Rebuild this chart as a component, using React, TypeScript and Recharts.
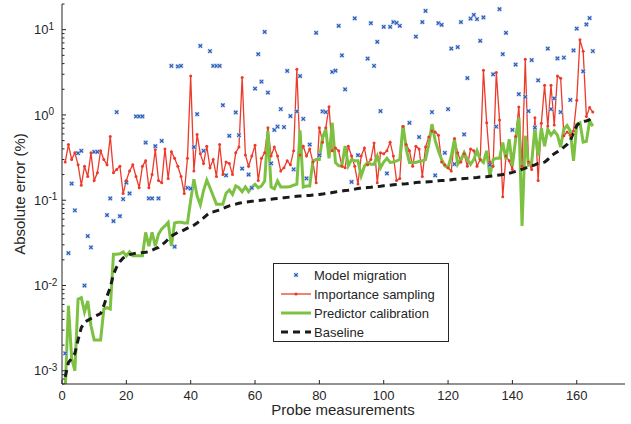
import React from "react"
import { ComposedChart, Line, Scatter, XAxis, YAxis, Legend } from "recharts"

const probes = Array.from({ length: 165 }, (_, i) => i + 1)

const importanceSampling = [
  0.28, 0.45, 0.30, 0.36, 0.26, 0.15, 0.25, 0.19, 0.36, 0.17,
  0.21, 0.38, 0.30, 0.26, 0.56, 0.21, 0.23, 0.25, 0.12, 0.17,
  0.22, 0.26, 0.19, 0.14, 0.25, 0.29, 0.14, 0.20, 0.39, 0.17,
  0.16, 0.40, 0.18, 0.37, 0.31, 0.25, 0.19, 0.12, 0.31, 2.86,
  0.22, 0.59, 0.35, 0.27, 0.43, 0.24, 0.30, 0.19, 0.45, 0.20,
  0.28, 0.27, 0.20, 0.36, 0.42, 2.74, 0.34, 0.25, 0.33, 0.44,
  0.17, 0.31, 0.36, 0.71, 0.33, 0.42, 0.33, 0.22, 0.24, 0.29,
  0.26, 0.38, 3.43, 0.34, 0.43, 0.33, 0.40, 0.28, 0.16, 0.71,
  0.48, 0.71, 1.25, 0.38, 0.41, 0.38, 0.25, 0.24, 0.43, 0.33,
  0.25, 0.155, 0.33, 0.41, 0.26, 0.30, 0.47, 0.16, 0.36, 0.35,
  0.38, 0.48, 0.33, 0.17, 0.18, 0.73, 0.45, 0.38, 0.25, 0.43,
  0.40, 0.19, 0.42, 0.55, 0.65, 0.63, 0.58, 0.28, 0.26, 0.24,
  0.22, 0.53, 0.36, 0.28, 0.35, 0.25, 0.40, 0.38, 0.25, 0.30,
  3.34, 0.81, 0.28, 0.25, 3.14, 0.87, 0.11, 0.33, 0.29, 0.23,
  0.56, 1.24, 0.25, 4.5, 0.28, 0.23, 0.93, 0.17, 0.80, 2.23,
  0.74, 2.23, 0.76, 2.86, 2.7, 0.57, 0.63, 0.58, 0.65, 1.49,
  7.6, 5.6, 0.96, 1.22, 1.08,
]

const predictorCalibration = [
  0.0006, 0.0058, 0.0014, 0.0010, 0.0069, 0.0072, 0.0049, 0.0066, 0.0034, 0.0023,
  0.0023, 0.0023, 0.0053, 0.0055, 0.0053, 0.0233, 0.0233, 0.0235, 0.0248, 0.0223,
  0.0248, 0.0223, 0.0223, 0.0223, 0.0223, 0.042, 0.029, 0.042, 0.029, 0.040,
  0.046, 0.050, 0.055, 0.029, 0.054, 0.055, 0.055, 0.054, 0.054, 0.10,
  0.176, 0.112, 0.088, 0.13, 0.172, 0.14, 0.112, 0.09, 0.09, 0.09,
  0.121, 0.132, 0.117, 0.147, 0.14, 0.126, 0.143, 0.126, 0.143, 0.154,
  0.14, 0.147, 0.168, 0.65, 0.143, 0.136, 0.168, 0.143, 0.143, 0.143,
  0.145, 0.15, 0.154, 0.66, 0.143, 0.147, 0.147, 0.289, 0.30, 0.30,
  0.55, 0.68, 0.31, 0.81, 0.277, 0.253, 0.253, 0.433, 0.253, 0.30,
  0.29, 0.29, 0.193, 0.25, 0.277, 0.264, 0.264, 0.33, 0.24, 0.28,
  0.31, 0.277, 0.28, 0.29, 0.30, 0.757, 0.40, 0.277, 0.277, 0.277,
  0.285, 0.29, 0.30, 0.45, 0.78, 0.50, 0.38, 0.30, 0.253, 0.24,
  0.33, 0.52, 0.264, 0.30, 0.362, 0.30, 0.264, 0.30, 0.38, 0.30,
  0.277, 0.38, 0.193, 0.30, 0.31, 0.31, 0.475, 0.30, 0.52, 0.253,
  0.52, 0.93, 0.05, 0.57, 0.26, 0.28, 0.70, 0.33, 0.70, 0.43,
  0.68, 0.58, 0.65, 0.58, 0.42, 0.68, 0.75, 0.65, 0.29, 0.78,
  0.81, 0.48, 0.49, 0.85, 0.74,
]

const baseline = [
  0.00085, 0.00125, 0.0014, 0.0016, 0.0023, 0.0032, 0.0037, 0.0039, 0.0041, 0.0043,
  0.0045, 0.0047, 0.0058, 0.0075, 0.0095, 0.0135, 0.0165, 0.019, 0.021, 0.022,
  0.023, 0.0235, 0.024, 0.024, 0.0243, 0.0245, 0.025, 0.026, 0.027, 0.028,
  0.030, 0.032, 0.035, 0.038, 0.040, 0.042, 0.043, 0.045, 0.047, 0.049,
  0.051, 0.054, 0.058, 0.062, 0.067, 0.072, 0.073, 0.075, 0.077, 0.080,
  0.083, 0.086, 0.088, 0.090, 0.092, 0.094, 0.095, 0.096, 0.097, 0.098,
  0.099, 0.100, 0.101, 0.102, 0.103, 0.104, 0.105, 0.106, 0.107, 0.108,
  0.109, 0.110, 0.111, 0.112, 0.113, 0.114, 0.114, 0.115, 0.116, 0.117,
  0.118, 0.120, 0.121, 0.123, 0.125, 0.127, 0.128, 0.130, 0.131, 0.133,
  0.135, 0.137, 0.139, 0.140, 0.141, 0.142, 0.144, 0.145, 0.146, 0.148,
  0.149, 0.150, 0.152, 0.153, 0.154, 0.155, 0.156, 0.158, 0.159, 0.161,
  0.162, 0.163, 0.164, 0.165, 0.166, 0.168, 0.169, 0.170, 0.171, 0.172,
  0.174, 0.176, 0.177, 0.179, 0.180, 0.181, 0.183, 0.184, 0.185, 0.187,
  0.188, 0.189, 0.191, 0.193, 0.196, 0.198, 0.200, 0.203, 0.207, 0.212,
  0.218, 0.224, 0.231, 0.238, 0.245, 0.252, 0.26, 0.27, 0.275, 0.28,
  0.30, 0.33, 0.35, 0.37, 0.39, 0.42, 0.45, 0.50, 0.62, 0.75,
  0.82, 0.84, 0.85, 0.88, 0.96,
]

// model migration only has a marker where one is visible
const migrationProbe = [
  1, 2, 3, 4, 5, 6, 7, 8, 9, 10, 11, 14, 15, 16, 17, 18, 19, 20, 21, 23,
  24, 25, 26, 27, 28, 29, 30, 31, 34, 35, 36, 37, 39, 40, 41, 42, 43, 44, 46, 47,
  48, 49, 50, 51, 52, 54, 55, 56, 58, 59, 60, 61, 62, 63, 64, 65, 66, 67, 68, 69,
  70, 71, 72, 73, 74, 75, 76, 77, 79, 80, 81, 82, 84, 85, 86, 87, 88, 90, 91, 92,
  95, 96, 97, 98, 99, 100, 101, 102, 103, 104, 105, 108, 110, 111, 112, 113, 115, 116, 117, 118,
  119, 120, 121, 122, 123, 124, 125, 126, 127, 128, 129, 130, 131, 133, 134, 135, 136, 137, 138, 140,
  141, 142, 144, 145, 146, 147, 148, 151, 152, 153, 154, 155, 156, 158, 159, 160, 162, 163, 164, 165,
]
const migrationError = [
  0.0016, 0.024, 0.157, 0.076, 0.356, 0.38, 0.01, 0.038, 0.028, 0.37, 0.37, 0.067, 0.105, 0.057, 1.08, 0.065, 0.103, 0.161, 0.12, 0.96,
  0.96, 0.96, 0.475, 0.105, 0.105, 0.43, 0.105, 0.496, 3.76, 0.0285, 3.7, 3.76, 0.14, 0.137, 0.42, 1.02, 6.45, 0.38, 5.6, 3.76,
  3.76, 3.76, 1.3, 0.196, 0.57, 1.07, 0.58, 0.235, 0.2, 0.14, 2.04, 5.16, 2.46, 9.4, 1.83, 0.27, 0.667, 0.73, 1.17, 0.72,
  3.28, 0.97, 0.23, 1.1, 2.86, 0.9, 0.18, 0.45, 9.2, 0.337, 1.1, 1.08, 3.19, 3.3, 11.1, 5.0, 2.0, 0.164, 13.6, 0.337,
  4.58, 11.9, 3.76, 7.2, 1.11, 10.8, 0.206, 10.8, 12.3, 12.0, 11.1, 0.81, 8.3, 0.55, 12.3, 16.6, 1.08, 0.196, 11.9, 11.4,
  0.36, 1.17, 6.0, 0.265, 6.25, 12.3, 0.59, 2.71, 13.5, 14.9, 13.3, 7.4, 13.9, 0.26, 3.0, 0.73, 17.4, 5.16, 9.2, 0.667,
  3.9, 1.75, 1.63, 1.11, 4.4, 0.71, 2.55, 6.0, 1.17, 1.56, 4.6, 1.08, 4.7, 1.5, 5.7, 10.3, 3.25, 11.5, 13.7, 5.6,
]

const xTicks = [0, 20, 40, 60, 80, 100, 120, 140, 160]
const yDomain = [0.0007, 20]

const seriesNames = ["Model migration", "Importance sampling", "Predictor calibration", "Baseline"]

const BLUE = "#2b5cb8"
const BLUE_HALO = "#c3d3ef"
const RED = "#ec3a2b"
const GREEN = "#7dc142"
const BLACK = "#1a1a1a"
const AXIS = "#262626"
const FONT = "'Liberation Sans', Arial, Helvetica, sans-serif"

const lineData = probes.map((p, i) => ({
  probe: p,
  importance: importanceSampling[i],
  predictor: predictorCalibration[i],
  baseline: baseline[i],
}))
const migrationData = migrationProbe.map((p, i) => ({ probe: p, migration: migrationError[i] }))

// log ticks: decades get a label, 2..9 get a short minor tick
const yTicks: number[] = []
for (let d = -4; d <= 1; d++) {
  for (let m = 1; m <= 9; m++) {
    const v = Number((m * Math.pow(10, d)).toPrecision(3))
    if (v >= yDomain[0] && v <= yDomain[1]) yTicks.push(v)
  }
}

function Cross({ cx, cy }: any) {
  if (cx == null || cy == null || isNaN(cx) || isNaN(cy)) return null
  const s = 1.7
  return (
    <g>
      <rect x={cx - 2.4} y={cy - 2.4} width={4.8} height={4.8} fill={BLUE_HALO} opacity={0.7} />
      <g stroke={BLUE} strokeWidth={1.2}>
        <line x1={cx - s} y1={cy - s} x2={cx + s} y2={cy + s} />
        <line x1={cx - s} y1={cy + s} x2={cx + s} y2={cy - s} />
      </g>
    </g>
  )
}

function XTick({ x, y, payload }: any) {
  return (
    <g>
      <line x1={x} x2={x} y1={y} y2={y - 4} stroke={AXIS} />
      <text x={x} y={y + 15.5} textAnchor="middle" fontSize={13} fill={AXIS} fontFamily={FONT}>
        {payload.value}
      </text>
    </g>
  )
}

function YTick({ x, y, payload }: any) {
  const lg = Math.log10(payload.value)
  const e = Math.round(lg)
  const major = Math.abs(lg - e) < 1e-6
  return (
    <g>
      <line x1={x} x2={x + (major ? 4 : 2.5)} y1={y} y2={y} stroke={AXIS} />
      {major && (
        <text x={x - 28} y={y + 4.7} fontSize={13} fill={AXIS} fontFamily={FONT}>
          10
          <tspan dy={-4.5} fontSize={10}>
            {e < 0 ? "-" + Math.abs(e) : String(e)}
          </tspan>
        </text>
      )}
    </g>
  )
}

function LegendBox() {
  const rowY = [11, 30, 49, 68]
  return (
    <div style={{ width: 174, height: 77, border: `1px solid ${AXIS}`, background: "#fff" }}>
      <svg width={174} height={77} style={{ display: "block" }}>
        <Cross cx={22} cy={rowY[0]} />
        <line x1={7} x2={37} y1={rowY[1]} y2={rowY[1]} stroke={RED} strokeWidth={1.3} />
        <circle cx={22} cy={rowY[1]} r={1.6} fill={RED} />
        <line x1={7} x2={37} y1={rowY[2]} y2={rowY[2]} stroke={GREEN} strokeWidth={3} />
        <line x1={7} x2={37} y1={rowY[3]} y2={rowY[3]} stroke={BLACK} strokeWidth={3} strokeDasharray="7 5" />
        {seriesNames.map((n, i) => (
          <text key={n} x={40} y={rowY[i] + 4.6} fontSize={13} fill={AXIS} fontFamily={FONT}>
            {n}
          </text>
        ))}
      </svg>
    </div>
  )
}

export default function App() {
  return (
    <div style={{ position: "absolute", left: 0, top: 0, width: 631, height: 424, background: "#fff" }}>
      <ComposedChart width={631} height={424} data={lineData} margin={{ top: 4, right: 6, bottom: 0, left: 0 }}>
        <XAxis
          type="number"
          dataKey="probe"
          domain={[0, 175]}
          ticks={xTicks}
          height={40}
          tickSize={0}
          tickMargin={0}
          tickLine={false}
          axisLine={{ stroke: AXIS }}
          tick={<XTick />}
          label={{
            content: () => (
              <text x={343} y={415} textAnchor="middle" fontSize={15} fill={AXIS} fontFamily={FONT}>
                Probe measurements
              </text>
            ),
          }}
        />
        <YAxis
          type="number"
          scale="log"
          domain={yDomain}
          allowDataOverflow
          ticks={yTicks}
          interval={0}
          width={62}
          tickSize={0}
          tickMargin={0}
          tickLine={false}
          axisLine={{ stroke: AXIS }}
          tick={<YTick />}
          label={{
            content: () => (
              <text
                x={21}
                y={194}
                transform="rotate(-90 21 194)"
                textAnchor="middle"
                dominantBaseline="middle"
                fontSize={15}
                fill={AXIS}
                fontFamily={FONT}
              >
                Absolute error (%)
              </text>
            ),
          }}
        />
        <Scatter
          name={seriesNames[0]}
          data={migrationData}
          dataKey="migration"
          shape={<Cross />}
          isAnimationActive={false}
        />
        <Line
          name={seriesNames[1]}
          type="linear"
          dataKey="importance"
          stroke={RED}
          strokeWidth={1.3}
          dot={{ r: 1.5, fill: RED, stroke: RED, strokeWidth: 0 }}
          isAnimationActive={false}
        />
        <Line
          name={seriesNames[2]}
          type="linear"
          dataKey="predictor"
          stroke={GREEN}
          strokeWidth={3}
          dot={false}
          isAnimationActive={false}
        />
        <Line
          name={seriesNames[3]}
          type="linear"
          dataKey="baseline"
          stroke={BLACK}
          strokeWidth={3}
          strokeDasharray="7 5"
          dot={false}
          isAnimationActive={false}
        />
        <Legend
          layout="vertical"
          align="center"
          verticalAlign="middle"
          wrapperStyle={{ left: 273, top: 263, width: 176, height: 79 }}
          content={() => <LegendBox />}
        />
      </ComposedChart>
    </div>
  )
}
